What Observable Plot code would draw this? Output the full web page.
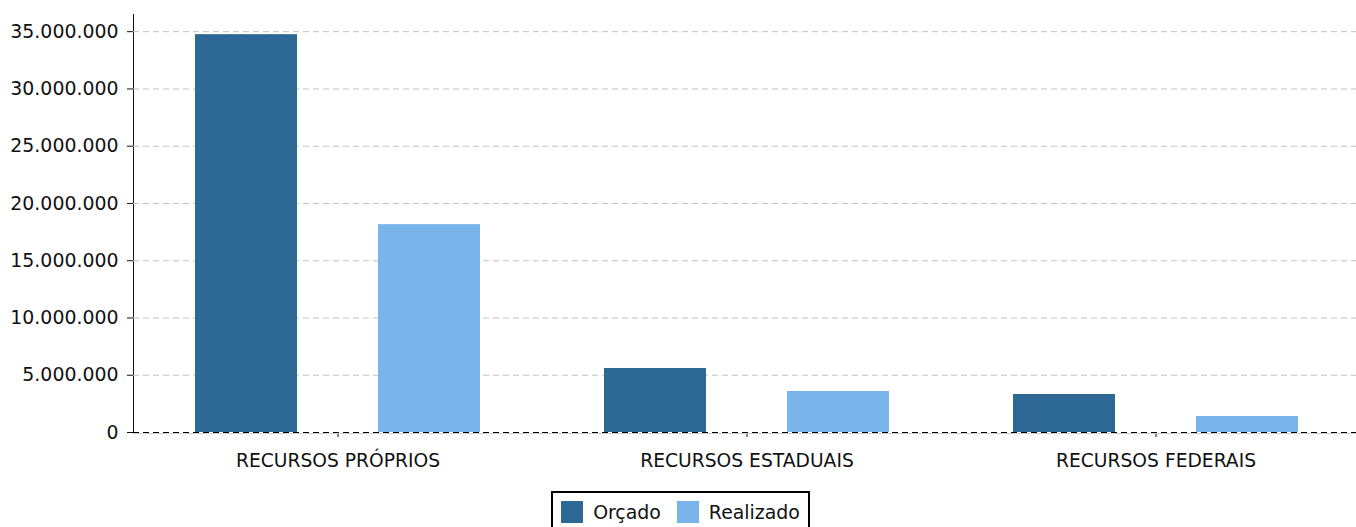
<!DOCTYPE html>
<html>
<head>
<meta charset="utf-8">
<script src="https://cdn.jsdelivr.net/npm/d3@7"></script>
<script src="https://cdn.jsdelivr.net/npm/@observablehq/plot@0.6"></script>
<style>
  html, body { margin: 0; padding: 0; background: #fff; }
  body { font-family: "DejaVu Sans", sans-serif; width: 1356px; }
  #legend { display: flex; justify-content: center; margin-top: 16px; padding-left: 5px; }
  .box { display: flex; align-items: center; border: 2px solid #000; padding: 8px 8px 8px 8px; font-size: 18.9px; color: #111; }
  .item { display: flex; align-items: center; }
  .item + .item { margin-left: 16px; }
  .sw { width: 22px; height: 22px; margin-right: 10px; }
  svg g[aria-label="y-axis tick label"] text { font-size: 18.9px; }
</style>
</head>
<body>
<div id="chart"></div>
<div id="legend"></div>
<script>
const categories = ["RECURSOS PRÓPRIOS", "RECURSOS ESTADUAIS", "RECURSOS FEDERAIS"];
const series = ["Orçado", "Realizado"];
const orcado = [34740000, 5590000, 3320000];
const realizado = [18150000, 3580000, 1400000];
const yTicks = [0, 5000000, 10000000, 15000000, 20000000, 25000000, 30000000, 35000000];
const colors = ["#2e6996", "#79b4ea"];

const data = [];
categories.forEach((c, i) => {
  data.push({cat: c, series: series[0], value: orcado[i]});
  data.push({cat: c, series: series[1], value: realizado[i]});
});

const fmt = d3.formatLocale({decimal: ",", thousands: ".", grouping: [3], currency: ["R$", ""]}).format(",d");

const chart = Plot.plot({
  width: 1356,
  height: 475,
  marginLeft: 133,
  marginRight: -4,
  marginTop: 14,
  marginBottom: 43,
  style: {fontFamily: "DejaVu Sans, sans-serif", fontSize: "18.7px", color: "#111", background: "#fff"},
  fx: {domain: categories, padding: 0, label: null, tickSize: 5, tickPadding: 16},
  x: {domain: series, paddingInner: 0.44, paddingOuter: 0.3316, axis: null},
  y: {domain: [0, 36500000], ticks: yTicks, tickFormat: fmt, label: null, tickSize: 6, tickPadding: 9, line: true},
  color: {domain: series, range: colors},
  marks: [
    Plot.gridY(yTicks.filter(d => d > 0), {stroke: "#c2c2c2", strokeOpacity: 1, strokeDasharray: "6,4"}),
    Plot.ruleY([0], {stroke: "#cccccc", strokeWidth: 1, dy: 1}),
    Plot.barY(data, {fx: "cat", x: "series", y: "value", fill: "series"}),
    Plot.ruleY([0], {stroke: "#000", strokeDasharray: "6,4"})
  ]
});
document.getElementById("chart").appendChild(chart);

const leg = document.getElementById("legend");
const box = document.createElement("div");
box.className = "box";
series.forEach((s, i) => {
  const it = document.createElement("div");
  it.className = "item";
  const sw = document.createElement("div");
  sw.className = "sw";
  sw.style.background = colors[i];
  const t = document.createElement("span");
  t.textContent = s;
  it.appendChild(sw);
  it.appendChild(t);
  box.appendChild(it);
});
leg.appendChild(box);
</script>
</body>
</html>
